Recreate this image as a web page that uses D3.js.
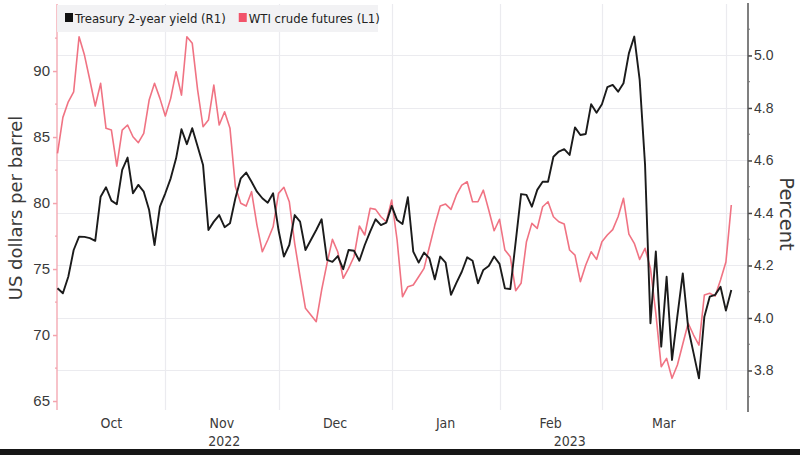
<!DOCTYPE html>
<html>
<head>
<meta charset="utf-8">
<script src="https://cdn.jsdelivr.net/npm/d3@7"></script>
<style>
  html, body { margin: 0; padding: 0; background: #ffffff; }
  svg { display: block; font-family: "DejaVu Sans", "Liberation Sans", sans-serif; font-stretch: condensed; }
  .title { font-stretch: normal; }
</style>
</head>
<body>
<svg id="chart" width="800" height="455"></svg>
<script>
// ---- Data (one value per trading day, Oct 2022 – Mar 2023) ----
const treasury2y = [
  4.113, 4.094, 4.157, 4.259, 4.310, 4.309, 4.304, 4.294, 4.462, 4.498,
  4.447, 4.433, 4.564, 4.611, 4.475, 4.507, 4.481, 4.411, 4.278, 4.424,
  4.475, 4.532, 4.608, 4.719, 4.662, 4.723, 4.653, 4.583, 4.335, 4.367,
  4.392, 4.346, 4.361, 4.456, 4.532, 4.554, 4.519, 4.481, 4.456, 4.439,
  4.475, 4.335, 4.234, 4.278, 4.392, 4.367, 4.259, 4.297, 4.335, 4.376,
  4.221, 4.214, 4.236, 4.186, 4.259, 4.256, 4.218, 4.278, 4.329, 4.376,
  4.354, 4.363, 4.427, 4.373, 4.358, 4.460, 4.253, 4.211, 4.249, 4.227,
  4.147, 4.234, 4.211, 4.088, 4.134, 4.176, 4.231, 4.218, 4.132, 4.183,
  4.198, 4.234, 4.206, 4.113, 4.110, 4.290, 4.472, 4.469, 4.424, 4.488,
  4.519, 4.519, 4.614, 4.634, 4.643, 4.621, 4.726, 4.697, 4.701, 4.814,
  4.782, 4.814, 4.879, 4.888, 4.862, 4.894, 5.008, 5.072, 4.907, 4.583,
  3.980, 4.253, 3.891, 4.157, 3.840, 4.008, 4.170, 3.962, 3.866, 3.770,
  4.005, 4.081, 4.088, 4.119, 4.028, 4.107
];
const wtiCrude = [
  83.77, 86.49, 87.67, 88.43, 92.60, 91.21, 89.32, 87.35, 89.07, 85.66,
  85.53, 82.80, 85.53, 85.91, 85.02, 84.57, 85.28, 87.80, 89.07, 87.93,
  86.59, 87.93, 89.95, 88.18, 92.60, 92.10, 88.56, 85.78, 86.29, 88.94,
  85.91, 86.92, 85.66, 81.23, 79.98, 79.77, 80.86, 78.33, 76.31, 77.20,
  78.20, 80.73, 81.19, 80.10, 76.95, 74.42, 72.02, 71.52, 71.01, 73.41,
  75.43, 77.25, 76.29, 74.30, 75.05, 75.93, 78.26, 77.58, 79.60, 79.52,
  78.96, 78.58, 80.23, 77.20, 72.90, 73.66, 73.79, 74.42, 75.05, 76.69,
  78.33, 79.77, 79.92, 79.52, 80.61, 81.36, 81.61, 80.10, 80.10, 80.98,
  79.47, 77.90, 78.77, 76.44, 75.93, 73.36, 73.92, 77.07, 78.46, 78.08,
  79.72, 80.10, 78.96, 78.58, 78.41, 76.44, 76.06, 74.04, 75.30, 76.31,
  75.73, 77.07, 77.58, 77.99, 78.96, 80.36, 77.65, 76.95, 75.73, 76.57,
  75.05, 71.64, 67.60, 68.23, 66.72, 67.73, 69.32, 70.89, 70.00, 69.24,
  73.03, 73.16, 72.95, 74.17, 75.53, 79.85
];
// month boundaries as trading-day index positions
const monthLabels = ["Oct", "Nov", "Dec", "Jan", "Feb", "Mar"];
const monthBounds = [0, 20, 41, 62, 82, 101, 124];
const yearLabels = ["2022", "2023"];
const yearStartMonth = [0, 3]; // index into monthLabels
const leftTicks = [65, 70, 75, 80, 85, 90];
const rightTicks = [3.8, 4.0, 4.2, 4.4, 4.6, 4.8, 5.0];
const seriesNames = ["Treasury 2-year yield (R1)", "WTI crude futures (L1)"];

// ---- Layout ----
const W = 800, H = 455;
const plot = { left: 57, right: 748, top: 4, bottom: 410 };
const BLACK = "#1b1b1b", PINK = "#f07383", PINK_AXIS = "#f3a3ad", GRID = "#ebebef", TXT = "#3a3a3a";

const svg = d3.select("#chart");
svg.append("rect").attr("width", W).attr("height", H).attr("fill", "#fff");

const x = d3.scaleLinear().domain([0, 125]).range([57.5, 731.3]);
const yL = d3.scaleLinear().domain([64.32, 95.08]).range([plot.bottom, plot.top]);
const yR = d3.scaleLinear().domain([3.6495, 5.196]).range([plot.bottom, plot.top]);

// grid
const grid = svg.append("g");
grid.selectAll("line.h").data(rightTicks).join("line")
  .attr("x1", plot.left).attr("x2", plot.right)
  .attr("y1", d => Math.round(yR(d)) + 0.5).attr("y2", d => Math.round(yR(d)) + 0.5)
  .attr("stroke", GRID).attr("stroke-width", 1.2);
grid.selectAll("line.v").data(monthBounds.slice(1)).join("line")
  .attr("x1", d => Math.round(x(d)) + 0.5).attr("x2", d => Math.round(x(d)) + 0.5)
  .attr("y1", plot.top).attr("y2", plot.bottom)
  .attr("stroke", GRID).attr("stroke-width", 1.2);

// left axis (pink)
const leftAxis = d3.axisLeft(yL).tickValues(leftTicks).tickSize(4).tickPadding(3).tickFormat(d3.format("d"));
const gL = svg.append("g").attr("transform", `translate(${plot.left},0)`).call(leftAxis);
gL.select(".domain").remove();
gL.selectAll(".tick line").attr("stroke", PINK_AXIS).attr("stroke-width", 1.5);
gL.selectAll(".tick text").attr("fill", TXT).style("font-size", "15px");
svg.append("line").attr("x1", plot.left).attr("x2", plot.left).attr("y1", plot.top).attr("y2", plot.bottom)
  .attr("stroke", PINK_AXIS).attr("stroke-width", 1.3);
const minorL = d3.range(67.5, 95.1, 5);
svg.append("g").selectAll("line").data(minorL).join("line")
  .attr("x1", plot.left - 2).attr("x2", plot.left)
  .attr("y1", d => yL(d)).attr("y2", d => yL(d))
  .attr("stroke", PINK_AXIS).attr("stroke-width", 1.2);

// right axis
const rightAxis = d3.axisRight(yR).tickValues(rightTicks).tickSize(4).tickPadding(2).tickFormat(d3.format(".1f"));
const gR = svg.append("g").attr("transform", `translate(${plot.right},0)`).call(rightAxis);
gR.select(".domain").remove();
gR.selectAll(".tick line").attr("stroke", "#444").attr("stroke-width", 1.5);
gR.selectAll(".tick text").attr("fill", TXT).style("font-size", "14px");
svg.append("line").attr("x1", plot.right).attr("x2", plot.right).attr("y1", plot.top - 1).attr("y2", plot.bottom + 2)
  .attr("stroke", "#555").attr("stroke-width", 1.5);
const minorR = d3.range(3.7, 5.15, 0.2);
svg.append("g").selectAll("line").data(minorR).join("line")
  .attr("x1", plot.right).attr("x2", plot.right + 2)
  .attr("y1", d => yR(d)).attr("y2", d => yR(d))
  .attr("stroke", "#777").attr("stroke-width", 1);

// axis titles
svg.append("text").attr("class", "title").attr("transform", `translate(15,208) rotate(-90)`)
  .attr("text-anchor", "middle").attr("dominant-baseline", "central")
  .attr("fill", TXT).style("font-size", "18px").text("US dollars per barrel");
svg.append("text").attr("class", "title").attr("transform", `translate(786,214) rotate(90)`)
  .attr("text-anchor", "middle").attr("dominant-baseline", "central")
  .attr("fill", TXT).style("font-size", "19.5px").text("Percent");

// x labels
const xl = svg.append("g");
xl.selectAll("text.m").data(monthLabels).join("text")
  .attr("x", (d, i) => x((monthBounds[i] + monthBounds[i + 1]) / 2))
  .attr("y", 428).attr("text-anchor", "middle").attr("fill", TXT)
  .style("font-size", "14px").text(d => d);
const domL = x.invert(plot.left), domR = x.invert(plot.right);
xl.selectAll("text.y").data(yearLabels).join("text")
  .attr("x", (d, i) => {
    const a = i === 0 ? domL : monthBounds[yearStartMonth[i]];
    const b = i + 1 < yearLabels.length ? monthBounds[yearStartMonth[i + 1]] : domR;
    return x((a + b) / 2);
  })
  .attr("y", 446).attr("text-anchor", "middle").attr("fill", TXT)
  .style("font-size", "14px").text(d => d);

// lines
const lineL = d3.line().x((d, i) => x(i)).y(d => yL(d));
const lineR = d3.line().x((d, i) => x(i)).y(d => yR(d));
svg.append("path").datum(wtiCrude).attr("d", lineL)
  .attr("fill", "none").attr("stroke", PINK).attr("stroke-width", 1.6).attr("stroke-linejoin", "round");
svg.append("path").datum(treasury2y).attr("d", lineR)
  .attr("fill", "none").attr("stroke", BLACK).attr("stroke-width", 1.9).attr("stroke-linejoin", "round");

// legend
const lg = svg.append("g");
lg.append("rect").attr("x", 57).attr("y", 5).attr("width", 321).attr("height", 27).attr("fill", "#f1f1f3").attr("opacity", 0.95);
const items = [{ name: seriesNames[0], color: "#111" }, { name: seriesNames[1], color: "#f2536a" }];
let lx = 65;
items.forEach(it => {
  lg.append("rect").attr("x", lx).attr("y", 13).attr("width", 8).attr("height", 9).attr("fill", it.color);
  const t = lg.append("text").attr("x", lx + 10).attr("y", 23).attr("fill", "#222")
    .style("font-size", "13px").text(it.name);
  lx += 10 + t.node().getComputedTextLength() + 13;
});

// bottom dark band
svg.append("rect").attr("x", 0).attr("y", 449).attr("width", W).attr("height", 6).attr("fill", "#161616");
</script>
</body>
</html>
